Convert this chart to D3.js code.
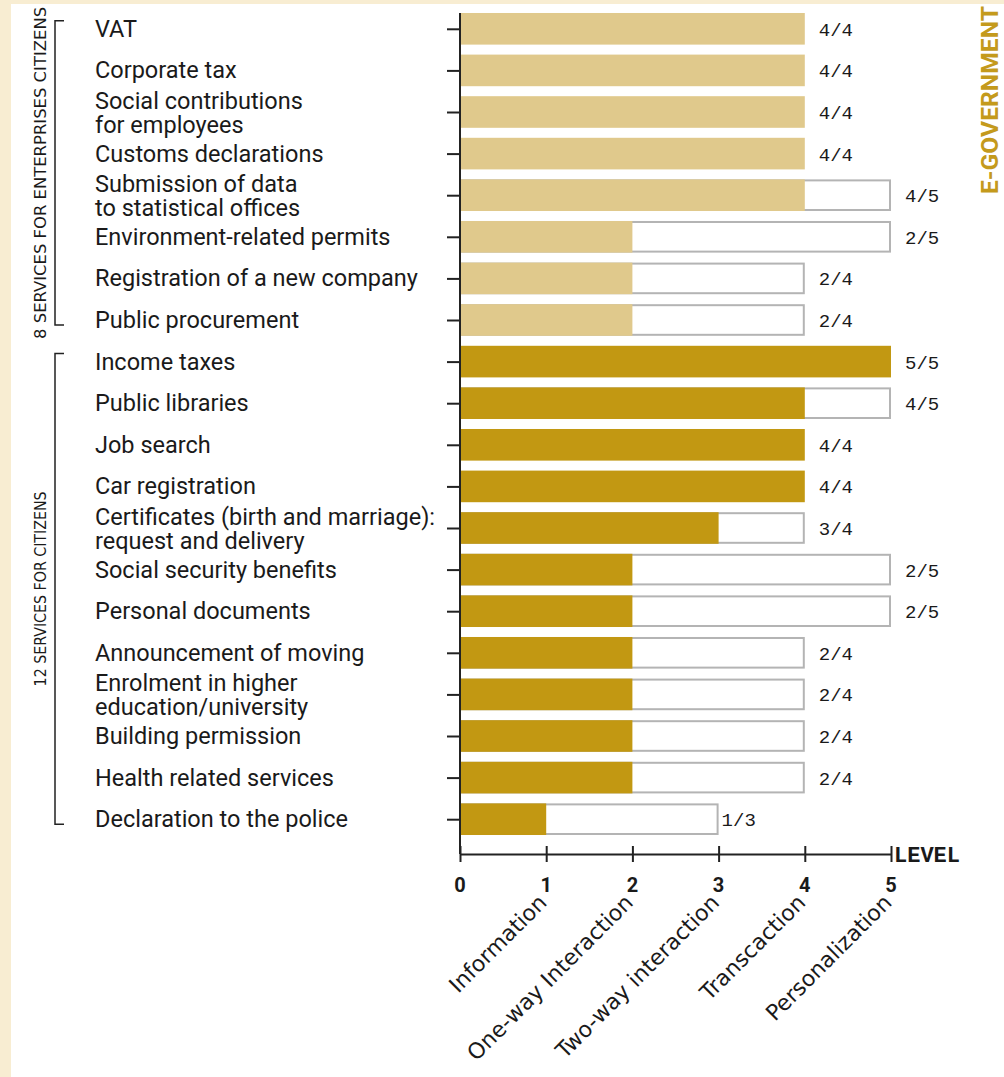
<!DOCTYPE html>
<html>
<head>
<meta charset="utf-8">
<script src="https://cdn.jsdelivr.net/npm/d3@7"></script>
<style>
  body { margin: 0; background: #fff; }
  svg text { fill: #1a1a1a; }
  .svc { font-family: Roboto, 'DejaVu Sans', sans-serif; font-size: 23.5px; }
  .val { font-family: 'Liberation Mono', 'DejaVu Sans Mono', monospace; font-size: 19px; }
  .tick-num { font-family: Roboto, sans-serif; font-weight: bold; font-size: 20px; }
  .lvl { font-family: 'DejaVu Sans', sans-serif; font-size: 22px; }
  .grp { font-family: 'DejaVu Sans Condensed', 'DejaVu Sans', sans-serif; font-size: 16px; }
</style>
</head>
<body>
<svg id="chart" width="1004" height="1077"></svg>
<script>
// 服务名称 (多行用 \n 分开)
const services = [
  'VAT', 'Corporate tax', 'Social contributions\nfor employees', 'Customs declarations',
  'Submission of data\nto statistical offices', 'Environment-related permits',
  'Registration of a new company', 'Public procurement',
  'Income taxes', 'Public libraries', 'Job search', 'Car registration',
  'Certificates (birth and marriage):\nrequest and delivery', 'Social security benefits',
  'Personal documents', 'Announcement of moving', 'Enrolment in higher\neducation/university',
  'Building permission', 'Health related services', 'Declaration to the police'
];
// 达到的级别
const achieved = [4, 4, 4, 4, 4, 2, 2, 2, 5, 4, 4, 4, 3, 2, 2, 2, 2, 2, 2, 1];
// 最高可达级别
const maxLevel = [4, 4, 4, 4, 5, 5, 4, 4, 5, 5, 4, 4, 4, 5, 5, 4, 4, 4, 4, 3];
// 分组
const groups = [
  { label: '8 SERVICES FOR ENTERPRISES CITIZENS', from: 0, to: 7 },
  { label: '12 SERVICES FOR CITIZENS', from: 8, to: 19 }
];
const levelTicks = [0, 1, 2, 3, 4, 5];
const levelNames = ['Information', 'One-way Interaction', 'Two-way interaction', 'Transcaction', 'Personalization'];

const svg = d3.select('#chart');
const W = 1004, H = 1077;

// 背景
svg.append('rect').attr('width', W).attr('height', H).attr('fill', '#f8edd2');
svg.append('rect').attr('x', 11).attr('y', 4).attr('width', W - 11).attr('height', H - 4).attr('fill', '#fff');

const x = d3.scaleLinear().domain([0, 5]).range([460, 891]);
const y = d3.scaleBand()
  .domain(d3.range(services.length))
  .range([8, 840])
  .paddingInner(0.24)
  .paddingOuter(0.12);
const axisY = 854;
const mid = i => y(i) + y.bandwidth() / 2;

const colorFor = i => (i < 8 ? '#e0c98c' : '#c29812');

// 空白框 (最高级别)
svg.append('g').selectAll('rect')
  .data(d3.range(services.length).filter(i => maxLevel[i] > achieved[i]))
  .join('rect')
  .attr('x', x(0))
  .attr('y', i => y(i) + 1)
  .attr('width', i => x(maxLevel[i]) - x(0) - 1)
  .attr('height', y.bandwidth() - 2)
  .attr('fill', '#fff')
  .attr('stroke', '#b4b4b4')
  .attr('stroke-width', 2);

// 实际级别
svg.append('g').selectAll('rect')
  .data(d3.range(services.length))
  .join('rect')
  .attr('x', x(0))
  .attr('y', i => y(i))
  .attr('width', i => x(achieved[i]) - x(0))
  .attr('height', y.bandwidth())
  .attr('fill', i => colorFor(i));

// 数值标签
svg.append('g').selectAll('text')
  .data(d3.range(services.length))
  .join('text')
  .attr('class', 'val')
  .attr('x', i => x(maxLevel[i]) + (maxLevel[i] === 3 ? 3 : 14))
  .attr('y', i => mid(i) + 7)
  .text(i => `${achieved[i]}/${maxLevel[i]}`);

// 左侧轴
const leftAxis = d3.axisLeft(d3.scaleOrdinal().domain(d3.range(services.length)).range(d3.range(services.length).map(mid)))
  .tickSize(13)
  .tickFormat('');
const leftG = svg.append('g').attr('transform', `translate(${x(0)},0)`).call(leftAxis);
leftG.select('.domain').remove();
leftG.selectAll('.tick line').attr('stroke', '#222').attr('stroke-width', 2);
svg.append('line')
  .attr('x1', x(0)).attr('x2', x(0))
  .attr('y1', y(0)).attr('y2', axisY)
  .attr('stroke', '#222').attr('stroke-width', 2);

// 服务标签
const svcText = svg.append('g').selectAll('text')
  .data(d3.range(services.length))
  .join('text')
  .attr('class', 'svc')
  .attr('x', 95)
  .attr('y', mid);
svcText.each(function (i) {
  const lines = services[i].split('\n');
  const t = d3.select(this);
  lines.forEach((ln, k) => {
    t.append('tspan')
      .attr('x', 95)
      .attr('dy', k === 0 ? (lines.length === 1 ? 8 : -3) : 24)
      .text(ln);
  });
});

// 底部轴
const bottomAxis = d3.axisBottom(x).tickValues(levelTicks).tickSize(0).tickFormat('');
const bottomG = svg.append('g').attr('transform', `translate(0,${axisY})`).call(bottomAxis);
bottomG.select('.domain').attr('stroke', '#222').attr('stroke-width', 2);
bottomG.selectAll('.tick').append('line')
  .attr('y1', -8).attr('y2', 8)
  .attr('stroke', '#222').attr('stroke-width', 2);

svg.append('g').selectAll('text')
  .data(levelTicks)
  .join('text')
  .attr('class', 'tick-num')
  .attr('x', d => x(d))
  .attr('y', axisY + 38)
  .attr('text-anchor', 'middle')
  .text(d => d);

svg.append('text')
  .attr('x', x(5) + 3)
  .attr('y', axisY + 8)
  .attr('font-family', "'Liberation Mono', monospace")
  .attr('font-weight', 'bold')
  .attr('font-size', 22)
  .text('LEVEL');

svg.append('g').selectAll('text')
  .data(levelNames)
  .join('text')
  .attr('class', 'lvl')
  .attr('text-anchor', 'end')
  .attr('transform', (d, i) => `translate(${x(i + 1) + 2},${axisY + 50}) rotate(-45)`)
  .text(d => d);

// 分组括号
const groupLen = [332, 195];
groups.forEach((g, gi) => {
  const top = mid(g.from) - 8;
  const bottom = mid(g.to) + 5;
  svg.append('path')
    .attr('d', `M64,${top}H55V${bottom}H64`)
    .attr('fill', 'none')
    .attr('stroke', '#222')
    .attr('stroke-width', 1.5);
  svg.append('text')
    .attr('class', 'grp')
    .attr('text-anchor', 'middle')
    .attr('textLength', groupLen[gi])
    .attr('lengthAdjust', 'spacingAndGlyphs')
    .attr('transform', `translate(46,${(top + bottom) / 2}) rotate(-90)`)
    .text(g.label);
});

// 右侧标题
svg.append('text')
  .attr('text-anchor', 'middle')
  .attr('transform', `translate(998,100) rotate(-90)`)
  .attr('font-family', 'Roboto, sans-serif')
  .attr('font-weight', 'bold')
  .attr('font-size', 23)
  .attr('textLength', 188)
  .attr('lengthAdjust', 'spacingAndGlyphs')
  .style('fill', '#c49a1c')
  .text('E-GOVERNMENT');
</script>
</body>
</html>
